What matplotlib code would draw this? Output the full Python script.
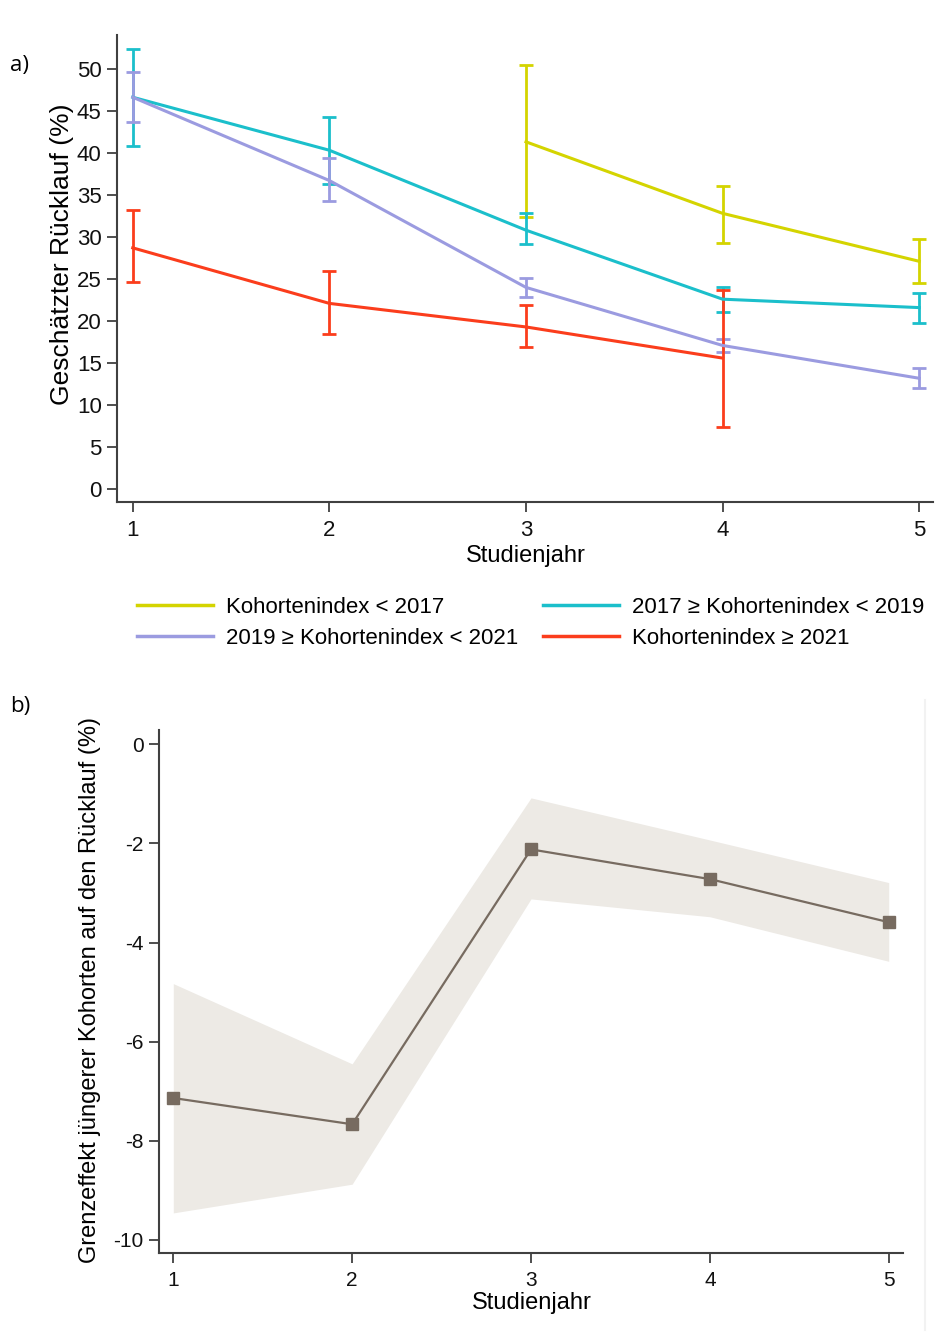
import matplotlib
matplotlib.use("Agg")
import matplotlib.pyplot as plt
import numpy as np
from matplotlib.lines import Line2D

plt.rcParams['font.family'] = ['Liberation Sans', 'DejaVu Sans']
plt.rcParams['axes.unicode_minus'] = False

# Panel a: estimated response rate by study year and cohort group
years = np.array([1, 2, 3, 4, 5])

labels = ['Kohortenindex < 2017',
          '2017 ≥ Kohortenindex < 2019',
          '2019 ≥ Kohortenindex < 2021',
          'Kohortenindex ≥ 2021']
colors = ['#d4d400', '#1bbfcb', '#9b9be0', '#fb3d1c']

yellow_x = [3, 4, 5]
yellow_y = [41.3, 32.8, 27.1]
yellow_lo = [32.4, 29.3, 24.5]
yellow_hi = [50.4, 36.0, 29.7]

cyan_x = [1, 2, 3, 4, 5]
cyan_y = [46.6, 40.3, 30.8, 22.6, 21.6]
cyan_lo = [40.8, 36.3, 29.2, 21.1, 19.8]
cyan_hi = [52.3, 44.2, 32.8, 24.1, 23.3]

purple_x = [1, 2, 3, 4, 5]
purple_y = [46.6, 36.7, 24.0, 17.1, 13.2]
purple_lo = [43.7, 34.3, 22.9, 16.3, 12.0]
purple_hi = [49.6, 39.4, 25.1, 17.9, 14.4]

red_x = [1, 2, 3, 4]
red_y = [28.7, 22.1, 19.3, 15.6]
red_lo = [24.6, 18.5, 16.9, 7.4]
red_hi = [33.2, 26.0, 21.9, 23.7]

# Panel b: marginal effect of younger cohorts
me_y = [-7.14, -7.67, -2.12, -2.72, -3.59]
me_lo = [-9.46, -8.88, -3.12, -3.48, -4.38]
me_hi = [-4.83, -6.45, -1.08, -1.93, -2.79]

series = [
    (yellow_x, yellow_y, yellow_lo, yellow_hi),
    (cyan_x, cyan_y, cyan_lo, cyan_hi),
    (purple_x, purple_y, purple_lo, purple_hi),
    (red_x, red_y, red_lo, red_hi),
]

fig = plt.figure(figsize=(9.39, 13.4), dpi=100)
ax1 = fig.add_axes([0.1246, 0.6254, 0.869, 0.3485])
ax2 = fig.add_axes([0.1693, 0.0649, 0.7924, 0.3903])


def style_axes(ax, size):
    for s in ['top', 'right']:
        ax.spines[s].set_visible(False)
    for s in ['left', 'bottom']:
        ax.spines[s].set_color('#404040')
        ax.spines[s].set_linewidth(1.5)
    ax.tick_params(axis='both', direction='out', length=7, width=1.3,
                   color='#404040', labelsize=size, labelcolor='#111111',
                   pad=4)
    ax.tick_params(axis='x', pad=6)


for (x, y, lo, hi), c, lab in zip(series, colors, labels):
    y = np.array(y)
    err = [y - np.array(lo), np.array(hi) - y]
    ax1.errorbar(x, y, yerr=err, color=c, lw=2.2, elinewidth=2,
                 capsize=5, capthick=2, label=lab)

style_axes(ax1, 16)
ax1.set_xlim(0.92, 5.07)
ax1.set_ylim(-1.5, 54)
ax1.set_xticks(years)
ax1.set_yticks(np.arange(0, 51, 5))
ax1.set_ylabel('Geschätzter Rücklauf (%)', fontsize=19, va='center')
ax1.yaxis.set_label_coords(-0.067, 0.53)
ax1.set_xlabel('Studienjahr', fontsize=17, va='center')
ax1.xaxis.set_label_coords(0.501, -0.116)

# legend fills column-wise, so order handles to get rows like the reference
order = [0, 2, 1, 3]
handles = [Line2D([0], [0], color=colors[i], lw=2.5) for i in order]
fig.legend(handles, [labels[i] for i in order], ncol=2, loc='center left',
           bbox_to_anchor=(0.125, 0.535), frameon=False, fontsize=16,
           handlelength=3.4, handletextpad=0.6, columnspacing=1.1,
           labelspacing=0.45)

# panel b
ax2.fill_between(years, me_lo, me_hi, color='#edeae5', lw=0)
ax2.plot(years, me_y, color='#776b60', lw=1.6, marker='s', markersize=8)
style_axes(ax2, 15)
ax2.set_xlim(0.92, 5.08)
ax2.set_ylim(-10.27, 0.29)
ax2.set_xticks(years)
ax2.set_yticks(np.arange(-10, 1, 2))
ax2.set_ylabel('Grenzeffekt jüngerer Kohorten auf den Rücklauf (%)',
               fontsize=17, va='center')
ax2.yaxis.set_label_coords(-0.093, 0.503)
ax2.set_xlabel('Studienjahr', fontsize=17, va='center')
ax2.xaxis.set_label_coords(0.501, -0.096)

# faint edge of graph region b
fig.add_artist(Line2D([925 / 939, 925 / 939], [1 - 700 / 1340, 1 - 1330 / 1340],
                      color='#f2f2f2', lw=1.5))

fig.text(10 / 939, 1 - 65 / 1340, 'a)', fontsize=16, family='Open Sans',
         va='center')
fig.text(10 / 939, 1 - 706 / 1340, 'b)', fontsize=16, family='Open Sans',
         va='center')

fig.savefig('out.png', dpi=100)
